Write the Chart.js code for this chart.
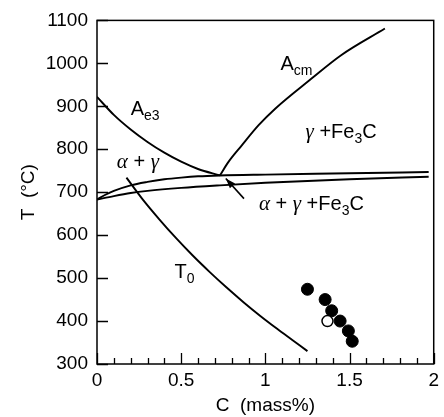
<!DOCTYPE html>
<html>
<head>
<meta charset="utf-8">
<script src="https://cdn.jsdelivr.net/npm/chart.js@4.4.1/dist/chart.umd.min.js"></script>
<style>
  html, body { margin: 0; padding: 0; background: #fff; }
</style>
</head>
<body>
<canvas id="chart" width="444" height="417"></canvas>
<script>
// phase boundaries, C (mass%) vs T (°C)
const ae3C = [0, 0.1, 0.2, 0.3, 0.4, 0.5, 0.6, 0.73];
const ae3T = [922, 880, 846, 817, 792, 771, 754, 739];
const acmC = [0.73, 0.78, 0.86, 0.96, 1.06, 1.26, 1.45, 1.71];
const acmT = [739, 770, 809, 856, 895, 960, 1019, 1081];
const upperC = [0, 0.05, 0.1, 0.2, 0.3, 0.4, 0.5, 0.6, 0.73, 1.0, 1.5, 1.97];
const upperT = [683, 694, 703, 716, 724, 730, 734, 737, 739, 741, 744, 747];
const lowerC = [0, 0.1, 0.2, 0.3, 0.5, 0.73, 1.0, 1.5, 1.97];
const lowerT = [683, 691, 698, 703, 710, 716, 722, 730, 736];
const t0C = [0.175, 0.27, 0.37, 0.47, 0.57, 0.67, 0.77, 0.87, 0.97, 1.07, 1.16, 1.25];
const t0T = [734, 684, 637, 593, 552, 514, 478, 444, 412, 382, 356, 330];

// measured points
const filledC = [1.25, 1.355, 1.394, 1.444, 1.493, 1.516];
const filledT = [474, 450, 424, 400, 377, 353];
const openC = [1.369];
const openT = [400];

const xMajor = [0, 0.5, 1, 1.5, 2];

function pts(xs, ys) {
    return xs.map((v, i) => ({ x: v, y: ys[i] }));
}

function isMajor(v) {
    return xMajor.some(m => Math.abs(m - v) < 1e-6);
}

function lineSet(xs, ys) {
    return {
        data: pts(xs, ys),
        showLine: true,
        borderColor: '#000',
        borderWidth: 1.9,
        pointRadius: 0,
        cubicInterpolationMode: 'monotone',
        fill: false,
        order: 2
    };
}

function drawRich(ctx, x, y, parts) {
    let cx = x;
    parts.forEach(p => {
        if (p.sub) ctx.font = '14px "Liberation Sans", Arial, sans-serif';
        else if (p.greek) ctx.font = 'italic 21px "Liberation Serif", serif';
        else ctx.font = '20px "Liberation Sans", Arial, sans-serif';
        ctx.fillText(p.t, cx, y + (p.sub ? 5 : 0));
        cx += ctx.measureText(p.t).width;
    });
}

const decor = {
    id: 'decor',
    afterDatasetsDraw(chart) {
        const { ctx, chartArea: a, scales: { x, y } } = chart;
        ctx.save();
        ctx.strokeStyle = '#000';
        ctx.fillStyle = '#000';

        // frame
        ctx.lineWidth = 1.5;
        ctx.strokeRect(a.left, a.top, a.right - a.left, a.bottom - a.top);

        // inward tick marks
        ctx.lineWidth = 1.3;
        ctx.beginPath();
        x.ticks.forEach(t => {
            const px = Math.round(x.getPixelForValue(t.value)) + 0.5;
            const len = isMajor(t.value) ? 11 : 6;
            ctx.moveTo(px, a.bottom);
            ctx.lineTo(px, a.bottom - len);
        });
        y.ticks.forEach(t => {
            const py = Math.round(y.getPixelForValue(t.value)) + 0.5;
            ctx.moveTo(a.left, py);
            ctx.lineTo(a.left + 11, py);
        });
        ctx.stroke();

        // arrow pointing at the eutectoid region
        const tx = x.getPixelForValue(0.873), ty = y.getPixelForValue(685);
        const hx = x.getPixelForValue(0.765), hy = y.getPixelForValue(732);
        const ang = Math.atan2(hy - ty, hx - tx);
        ctx.lineWidth = 1.6;
        ctx.beginPath();
        ctx.moveTo(tx, ty);
        ctx.lineTo(hx, hy);
        ctx.stroke();
        ctx.beginPath();
        ctx.moveTo(hx, hy);
        ctx.lineTo(hx - 10 * Math.cos(ang) + 3.5 * Math.sin(ang), hy - 10 * Math.sin(ang) - 3.5 * Math.cos(ang));
        ctx.lineTo(hx - 10 * Math.cos(ang) - 3.5 * Math.sin(ang), hy - 10 * Math.sin(ang) + 3.5 * Math.cos(ang));
        ctx.closePath();
        ctx.fill();

        // region / line labels
        ctx.textAlign = 'left';
        ctx.textBaseline = 'alphabetic';
        const at = (c, t) => [x.getPixelForValue(c), y.getPixelForValue(t)];
        let p;
        p = at(1.09, 984);
        drawRich(ctx, p[0], p[1], [{ t: 'A' }, { t: 'cm', sub: true }]);
        p = at(0.2, 879);
        drawRich(ctx, p[0], p[1], [{ t: 'A' }, { t: 'e3', sub: true }]);
        p = at(1.239, 826);
        drawRich(ctx, p[0], p[1], [{ t: 'γ', greek: true }, { t: ' +Fe' }, { t: '3', sub: true }, { t: 'C' }]);
        p = at(0.118, 756);
        drawRich(ctx, p[0], p[1], [{ t: 'α', greek: true }, { t: ' + ' }, { t: 'γ', greek: true }]);
        p = at(0.962, 658);
        drawRich(ctx, p[0], p[1], [{ t: 'α', greek: true }, { t: ' + ' }, { t: 'γ', greek: true }, { t: ' +Fe' }, { t: '3', sub: true }, { t: 'C' }]);
        p = at(0.46, 500);
        drawRich(ctx, p[0], p[1], [{ t: 'T' }, { t: '0', sub: true }]);

        ctx.restore();
    }
};

const tickFont = { family: '"Liberation Sans", Arial, sans-serif', size: 19 };

new Chart(document.getElementById('chart').getContext('2d'), {
    type: 'scatter',
    data: {
        datasets: [
            {
                data: pts(openC, openT),
                backgroundColor: '#fff',
                borderColor: '#000',
                borderWidth: 1.5,
                pointRadius: 5.5,
                order: 0
            },
            {
                data: pts(filledC, filledT),
                backgroundColor: '#000',
                borderColor: '#000',
                borderWidth: 1,
                pointRadius: 6,
                order: 1
            },
            lineSet(ae3C, ae3T),
            lineSet(acmC, acmT),
            lineSet(upperC, upperT),
            lineSet(lowerC, lowerT),
            lineSet(t0C, t0T)
        ]
    },
    options: {
        responsive: false,
        animation: false,
        devicePixelRatio: 1,
        layout: { padding: { top: 20, right: 8, left: 0, bottom: 0 } },
        plugins: { legend: { display: false }, tooltip: { enabled: false } },
        scales: {
            x: {
                type: 'linear',
                min: 0,
                max: 2,
                border: { display: false },
                grid: { display: false, drawTicks: false },
                ticks: {
                    stepSize: 0.1,
                    autoSkip: false,
                    maxRotation: 0,
                    padding: 5,
                    color: '#000',
                    font: tickFont,
                    callback: v => isMajor(v) ? String(Math.round(v * 10) / 10) : ''
                },
                title: {
                    display: true,
                    text: 'C  (mass%)',
                    color: '#000',
                    font: tickFont,
                    padding: { top: 0, bottom: 0 }
                },
                afterFit: s => { s.height = 53; }
            },
            y: {
                min: 300,
                max: 1100,
                border: { display: false },
                grid: { display: false, drawTicks: false },
                ticks: {
                    stepSize: 100,
                    padding: 9,
                    color: '#000',
                    font: tickFont,
                    callback: v => String(v)
                },
                title: {
                    display: true,
                    text: 'T  (°C)',
                    color: '#000',
                    font: tickFont,
                    padding: { top: 17, bottom: 0 }
                },
                afterFit: s => { s.width = 97; }
            }
        }
    },
    plugins: [decor]
});
</script>
</body>
</html>
